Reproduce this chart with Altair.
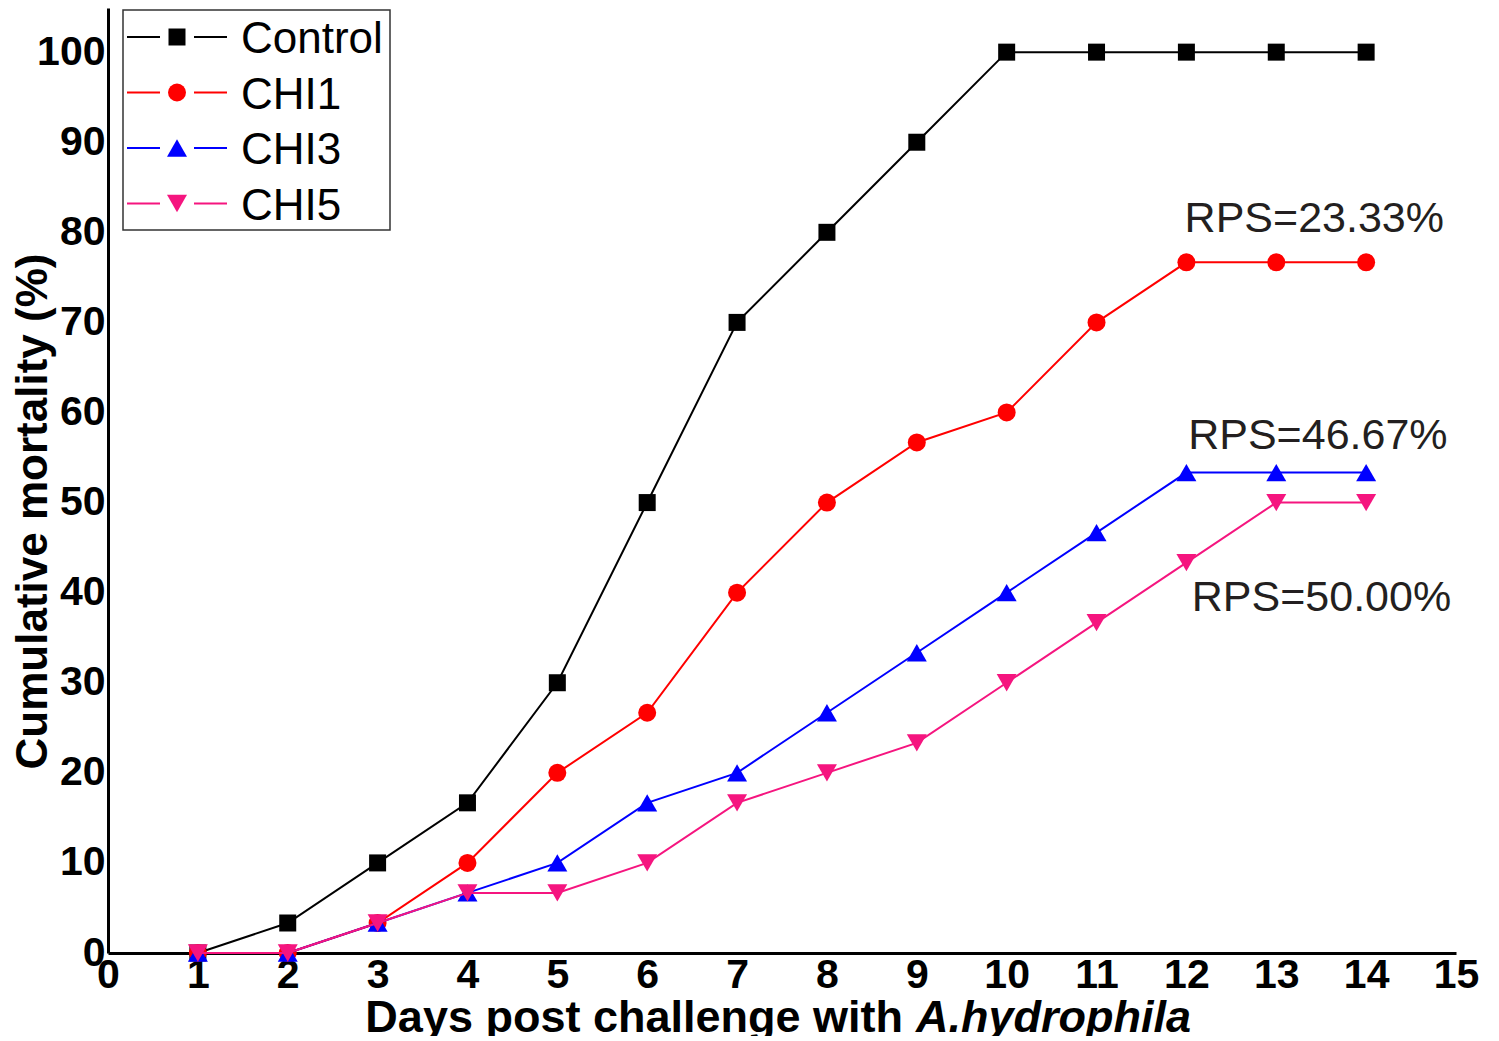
import altair as alt
import pandas as pd

# ---------------- data ----------------
days = list(range(1, 15))
control = [0, 3.33, 10, 16.67, 30, 50, 70, 80, 90, 100, 100, 100, 100, 100]
chi1 = [0, 0, 3.33, 10, 20, 26.67, 40, 50, 56.67, 60, 70, 76.67, 76.67, 76.67]
chi3 = [0, 0, 3.33, 6.67, 10, 16.67, 20, 26.67, 33.33, 40, 46.67, 53.33, 53.33, 53.33]
chi5 = [0, 0, 3.33, 6.67, 6.67, 10, 16.67, 20, 23.33, 30, 36.67, 43.33, 50, 50]

series_names = ["Control", "CHI1", "CHI3", "CHI5"]
series_values = [control, chi1, chi3, chi5]
series_colors = ["#000000", "#ff0000", "#0000ff", "#f5157f"]
series_shapes = ["square", "circle", "triangle-up", "triangle-down"]
series_sizes = [289, 324, 400, 400]

rps_labels = ["RPS=23.33%", "RPS=46.67%", "RPS=50.00%"]
rps_x = [11.98, 12.02, 12.06]
rps_y = [80.0, 56.0, 38.0]

x_ticks = list(range(0, 16))
y_ticks = list(range(0, 101, 10))

FONT = "Liberation Sans"

x_enc = alt.X(
    "day:Q",
    scale=alt.Scale(domain=[0, 15], nice=False, zero=False),
    axis=alt.Axis(
        values=x_ticks, format="d", title=None, ticks=False, grid=False,
        domainColor="black", domainWidth=3,
        labelFont=FONT, labelFontWeight="bold", labelFontSize=41,
        labelColor="black", labelPadding=2, labelFlush=False,
        labelOverlap=False, labelBound=False,
    ),
)
y_enc = alt.Y(
    "value:Q",
    scale=alt.Scale(domain=[0, 104.9], nice=False, zero=False),
    axis=alt.Axis(
        values=y_ticks, format="d", ticks=False, grid=False,
        domainColor="black", domainWidth=3,
        labelFont=FONT, labelFontWeight="bold", labelFontSize=41,
        labelColor="black", labelPadding=3, labelFlush=False,
        labelOverlap=False, labelBound=False,
        title="Cumulative mortality (%)", titleFont=FONT,
        titleFontWeight="bold", titleFontSize=44, titleColor="black",
        titleAngle=270, titleX=-62, titleY=503,
        titleAlign="center", titleBaseline="alphabetic",
    ),
)

layers = []
one = pd.DataFrame({"k": [0]})

# series lines and markers (drawn in order, later on top)
for name, vals, col, shp, sz in zip(series_names, series_values,
                                     series_colors, series_shapes, series_sizes):
    df = pd.DataFrame({"day": days, "value": vals, "series": name})
    layers.append(
        alt.Chart(df).mark_line(color=col, strokeWidth=2).encode(x=x_enc, y=y_enc)
    )
    layers.append(
        alt.Chart(df).mark_point(shape=shp, filled=True, size=sz, color=col,
                                 opacity=1).encode(x=x_enc, y=y_enc)
    )

# RPS annotations
rps_df = pd.DataFrame({"day": rps_x, "value": rps_y, "label": rps_labels})
layers.append(
    alt.Chart(rps_df).mark_text(align="left", baseline="alphabetic",
                                fontSize=43, font=FONT, color="#231f20")
    .encode(x=x_enc, y=y_enc, text="label:N")
)

# legend box
layers.append(
    alt.Chart(one).mark_rect(fillOpacity=0, stroke="#333333", strokeWidth=1.5)
    .encode(x=alt.value(15), x2=alt.value(282), y=alt.value(2), y2=alt.value(222))
)

# legend entries
for i, (name, col, shp, sz) in enumerate(zip(series_names, series_colors,
                                              series_shapes, series_sizes)):
    yc = 29 + 55.5 * i
    layers.append(
        alt.Chart(one).mark_rule(color=col, strokeWidth=2)
        .encode(x=alt.value(19), x2=alt.value(52), y=alt.value(yc))
    )
    layers.append(
        alt.Chart(one).mark_rule(color=col, strokeWidth=2)
        .encode(x=alt.value(86), x2=alt.value(119), y=alt.value(yc))
    )
    layers.append(
        alt.Chart(one).mark_point(shape=shp, filled=True, size=sz, color=col,
                                  opacity=1)
        .encode(x=alt.value(69), y=alt.value(yc))
    )
    layers.append(
        alt.Chart(one).mark_text(align="left", baseline="alphabetic",
                                 fontSize=44, font=FONT, color="black")
        .encode(x=alt.value(133), y=alt.value(yc + 16), text=alt.value(name))
    )

# x-axis title (mixed upright / italic)
layers.append(
    alt.Chart(one).mark_text(align="right", baseline="alphabetic", fontSize=45,
                             font=FONT, fontWeight="bold", color="black")
    .encode(x=alt.value(795), y=alt.value(1024),
            text=alt.value("Days post challenge with"))
)
layers.append(
    alt.Chart(one).mark_text(align="left", baseline="alphabetic", fontSize=45,
                             font=FONT, fontWeight="bold", fontStyle="italic",
                             color="black")
    .encode(x=alt.value(808), y=alt.value(1024), text=alt.value("A.hydrophila"))
)

chart = (
    alt.layer(*layers)
    .properties(
        width=1348, height=945,
        autosize=alt.AutoSizeParams(type="none"),
        padding={"left": 100, "top": 0, "right": 30, "bottom": 83},
        background="white",
    )
    .configure_view(strokeWidth=0)
)

chart.save("out.html", embed_options={"renderer": "svg", "actions": False})
